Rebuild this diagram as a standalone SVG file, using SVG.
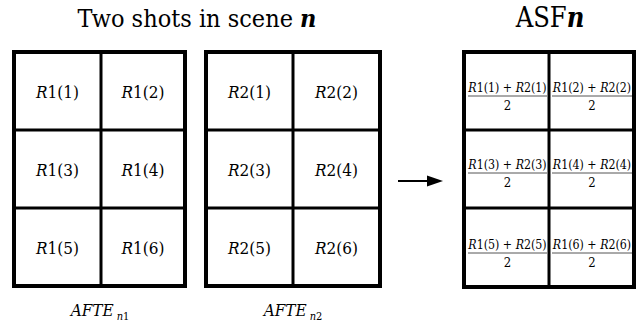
<svg xmlns="http://www.w3.org/2000/svg" width="639" height="328" viewBox="0 0 639 328">
  <style>
    text { font-family: "DejaVu Serif Condensed", "DejaVu Serif", "Liberation Serif", serif; font-stretch: condensed; fill: #000; }
    .title { font-size: 25px; text-anchor: middle; }
    .head { font-size: 27px; text-anchor: middle; }
    .cell { font-size: 17px; text-anchor: middle; }
    .frac { font-size: 12.3px; text-anchor: middle; }
    .den { font-size: 13px; text-anchor: middle; }
    .lbl { font-size: 17px; text-anchor: middle; font-style: italic; }
    .sub { font-size: 11px; }
    .it { font-style: italic; }
    .bi { font-style: italic; font-weight: bold; }
    .outer { fill: #fff; stroke: #000; stroke-width: 4; }
    .inner { stroke: #000; stroke-width: 3; }
    .bar { stroke: #555; stroke-width: 1; }
  </style>

  <!-- headings -->
  <text class="title" x="197" y="27">Two shots in scene <tspan class="bi">n</tspan></text>
  <text class="head" x="550" y="27">ASF<tspan class="bi">n</tspan></text>

  <!-- shot 1 grid -->
  <g id="shot1">
    <rect class="outer" x="14" y="52" width="171" height="234"/>
    <line class="inner" x1="101" y1="52" x2="101" y2="286"/>
    <line class="inner" x1="14" y1="130" x2="185" y2="130"/>
    <line class="inner" x1="14" y1="208" x2="185" y2="208"/>
    <text class="cell" x="57.5" y="98"><tspan class="it">R</tspan>1(1)</text>
    <text class="cell" x="143" y="98"><tspan class="it">R</tspan>1(2)</text>
    <text class="cell" x="57.5" y="176"><tspan class="it">R</tspan>1(3)</text>
    <text class="cell" x="143" y="176"><tspan class="it">R</tspan>1(4)</text>
    <text class="cell" x="57.5" y="254"><tspan class="it">R</tspan>1(5)</text>
    <text class="cell" x="143" y="254"><tspan class="it">R</tspan>1(6)</text>
  </g>
  <text class="lbl" x="100" y="316">AFTE<tspan class="sub" dx="3" dy="4">n</tspan><tspan class="sub" style="font-style:normal">1</tspan></text>

  <!-- shot 2 grid -->
  <g id="shot2">
    <rect class="outer" x="206" y="52" width="174" height="234"/>
    <line class="inner" x1="293" y1="52" x2="293" y2="286"/>
    <line class="inner" x1="206" y1="130" x2="380" y2="130"/>
    <line class="inner" x1="206" y1="208" x2="380" y2="208"/>
    <text class="cell" x="249.5" y="98"><tspan class="it">R</tspan>2(1)</text>
    <text class="cell" x="336.5" y="98"><tspan class="it">R</tspan>2(2)</text>
    <text class="cell" x="249.5" y="176"><tspan class="it">R</tspan>2(3)</text>
    <text class="cell" x="336.5" y="176"><tspan class="it">R</tspan>2(4)</text>
    <text class="cell" x="249.5" y="254"><tspan class="it">R</tspan>2(5)</text>
    <text class="cell" x="336.5" y="254"><tspan class="it">R</tspan>2(6)</text>
  </g>
  <text class="lbl" x="293" y="316">AFTE<tspan class="sub" dx="3" dy="4">n</tspan><tspan class="sub" style="font-style:normal">2</tspan></text>

  <!-- averaged grid -->
  <g id="asf">
    <rect class="outer" x="464" y="52" width="170" height="235"/>
    <line class="inner" x1="549" y1="52" x2="549" y2="287"/>
    <line class="inner" x1="464" y1="130" x2="634" y2="130"/>
    <line class="inner" x1="464" y1="208" x2="634" y2="208"/>

    <line class="bar" x1="468" y1="96" x2="547" y2="96"/>
    <line class="bar" x1="552" y1="96" x2="632" y2="96"/>
    <line class="bar" x1="468" y1="173" x2="547" y2="173"/>
    <line class="bar" x1="552" y1="173" x2="632" y2="173"/>
    <line class="bar" x1="468" y1="253" x2="547" y2="253"/>
    <line class="bar" x1="552" y1="253" x2="632" y2="253"/>

    <text class="frac" x="507.5" y="92"><tspan class="it">R</tspan>1(1) + <tspan class="it">R</tspan>2(1)</text>
    <text class="den" x="507.5" y="110">2</text>
    <text class="frac" x="592" y="92"><tspan class="it">R</tspan>1(2) + <tspan class="it">R</tspan>2(2)</text>
    <text class="den" x="592" y="110">2</text>

    <text class="frac" x="507.5" y="169"><tspan class="it">R</tspan>1(3) + <tspan class="it">R</tspan>2(3)</text>
    <text class="den" x="507.5" y="187">2</text>
    <text class="frac" x="592" y="169"><tspan class="it">R</tspan>1(4) + <tspan class="it">R</tspan>2(4)</text>
    <text class="den" x="592" y="187">2</text>

    <text class="frac" x="507.5" y="249"><tspan class="it">R</tspan>1(5) + <tspan class="it">R</tspan>2(5)</text>
    <text class="den" x="507.5" y="267">2</text>
    <text class="frac" x="592" y="249"><tspan class="it">R</tspan>1(6) + <tspan class="it">R</tspan>2(6)</text>
    <text class="den" x="592" y="267">2</text>
  </g>

  <!-- connectors -->
  <g id="connectors">
    <line x1="398" y1="181" x2="429" y2="181" stroke="#000" stroke-width="2"/>
    <polygon points="427,175.5 443,181 427,186.5" fill="#000"/>
  </g>
</svg>
